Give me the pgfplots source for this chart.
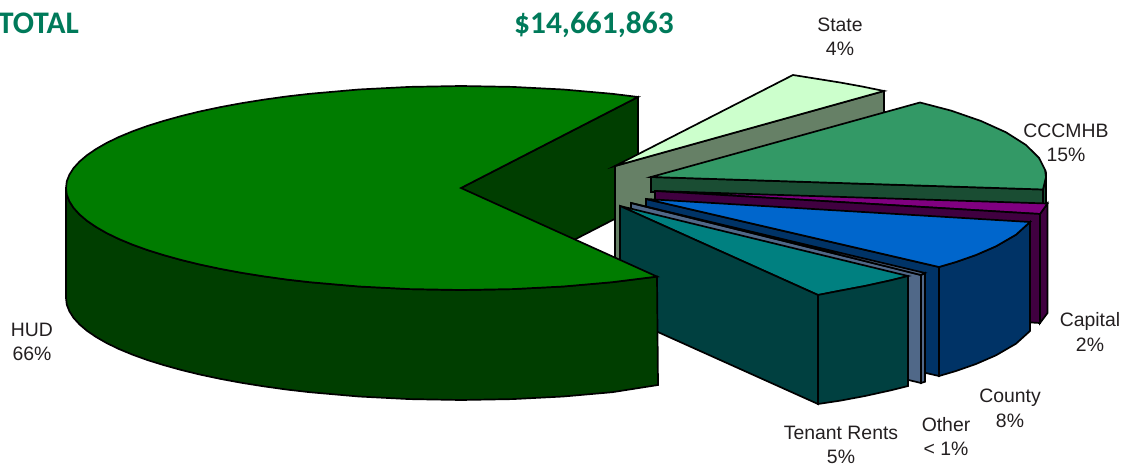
\documentclass[border=0pt]{standalone}
\usepackage{fontspec}
\setmainfont{Liberation Sans}
\newfontfamily\labelfont{Liberation Sans}
\newfontfamily\titlefont{Carlito}
\usepackage{pgfplots}
\pgfplotsset{compat=1.18}
\definecolor{hudtop}{RGB}{0,124,0}
\definecolor{hudwall}{RGB}{0,62,0}
\definecolor{statetop}{RGB}{204,255,204}
\definecolor{statewall}{RGB}{102,128,102}
\definecolor{cccmhbtop}{RGB}{51,153,102}
\definecolor{cccmhbwall}{RGB}{26,77,51}
\definecolor{capitaltop}{RGB}{128,0,128}
\definecolor{capitalwall}{RGB}{64,0,64}
\definecolor{countytop}{RGB}{0,102,204}
\definecolor{countywall}{RGB}{0,51,102}
\definecolor{otherwall}{RGB}{80,104,136}
\definecolor{tenanttop}{RGB}{0,128,128}
\definecolor{tenantwall}{RGB}{0,64,64}
\definecolor{titlegreen}{RGB}{0,122,90}
\definecolor{labeltext}{RGB}{35,31,32}
\begin{document}
\begin{tikzpicture}
\begin{axis}[
    at={(0,0)},
    scale only axis,
    width=1125pt,
    height=465pt,
    xmin=0, xmax=1125,
    ymin=0, ymax=465,
    y dir=reverse,
    axis lines=none,
    clip=false,
    every axis plot/.append style={draw=black, line width=1.7pt, mark=none},
]
% HUD inner wall
\addplot[fill=hudwall] coordinates {(461,188) (638,97) (638,207) (461,298)} --cycle;

% State
\addplot[fill=statewall] coordinates {(615,166) (884,91) (884,201) (615,276)} --cycle;
\addplot[fill=statetop] coordinates {(615,166) (793,75) (815,78.5) (840,82.5) (862,86.5) (884,91)} --cycle;

% CCCMHB
\addplot[fill=cccmhbwall] coordinates {(1046,177) (1046,287) (1043,299) (1043,189.5)} --cycle;
\addplot[fill=cccmhbwall] coordinates {(651,177) (1043,189.5) (1043,240) (655,240) (655,192) (651,192)} --cycle;
\addplot[fill=cccmhbtop] coordinates {(651,177) (920,102.5) (951,110.6) (981,121) (1006,132.3) (1026,145) (1039,157.9) (1045,169.7) (1046,177) (1043,189.5)} --cycle;

% Capital
\addplot[fill=capitalwall] coordinates {(1047.5,203.5) (1047.5,313) (1040,323) (1040,214)} --cycle;
\addplot[fill=capitaltop] coordinates {(655,191) (1047.5,203.5) (1040,214)} --cycle;
\addplot[fill=capitalwall] coordinates {(655,191) (1040,214) (1040,323) (655,301)} --cycle;

% County
\addplot[fill=countywall] coordinates {(646,199) (939,267) (939,376) (646,309)} --cycle;
\addplot[fill=countywall] coordinates {(939,267) (956,262) (976,255) (996,246.3) (1016,234.7) (1030,222) (1030,331) (1016,343.7) (996,355.3) (976,364) (956,371) (939,376)} --cycle;
\addplot[fill=countytop] coordinates {(646,199) (1030,222) (1016,234.7) (996,246.3) (976,255) (956,262) (939,267)} --cycle;

% Other
\addplot[fill=otherwall] coordinates {(631,203) (921,275) (921,383) (631,313)} --cycle;
\addplot[fill=otherwall] coordinates {(921,275) (925,273) (925,381.7) (921,383)} --cycle;
\addplot[fill=otherwall] coordinates {(631,203) (925,273) (921,275)} --cycle;

% Tenant Rents
\addplot[fill=tenanttop] coordinates {(620,206) (908,276) (890,280.5) (865,286) (840,290.7) (818,295)} --cycle;
\addplot[fill=tenantwall] coordinates {(620,206) (818,295) (818,404) (620,315)} --cycle;
\addplot[fill=tenantwall] coordinates {(818,295) (840,290.7) (865,286) (890,280.5) (908,276) (908,386) (890,390.5) (865,396) (840,400.7) (818,404)} --cycle;

% HUD front wall and top
\addplot[fill=hudwall] coordinates {
    (66,188) (66.8,194.7) (69.4,201.3) (73.6,207.9) (79.5,214.4) (87,220.8)
    (96.1,227) (106.7,233.1) (118.9,239) (132.6,244.7) (147.6,250.1) (164,255.2)
    (181.7,260.1) (200.6,264.7) (220.5,268.9) (241.5,272.8) (263.5,276.3)
    (286.3,279.5) (309.8,282.2) (358.8,286.5)
    (409.5,289.1) (461,290) (512.5,289.1) (563.2,286.5) (612.2,282.2) (657,276.6)
    (658,385) (612.2,392.2) (563.2,396.5) (512.5,399.1) (461,400) (409.5,399.1)
    (358.8,396.5) (309.8,392.2) (286.3,389.5) (263.5,386.3) (241.5,382.8)
    (220.5,378.9) (200.6,374.7) (181.7,370.1) (164,365.2)
    (147.6,360.1) (132.6,354.7) (118.9,349) (106.7,343.1) (96.1,337) (87,330.8)
    (79.5,324.4) (73.6,317.9) (69.4,311.3) (66.8,304.7) (66,298)
} --cycle;
\addplot[fill=hudtop] coordinates {
    (461,188) (638,97) (612.2,93.8) (563.2,89.5) (512.5,86.9) (461,86)
    (409.5,86.9) (358.8,89.5) (309.8,93.8) (286.3,96.5) (263.5,99.7) (241.5,103.2)
    (220.5,107.1) (200.6,111.3) (181.7,115.9) (164,120.8) (147.6,125.9) (132.6,131.3)
    (118.9,137) (106.7,142.9) (96.1,149) (87,155.2) (79.5,161.6) (73.6,168.1)
    (69.4,174.7) (66.8,181.3) (66,188) (66.8,194.7) (69.4,201.3) (73.6,207.9)
    (79.5,214.4) (87,220.8) (96.1,227) (106.7,233.1) (118.9,239) (132.6,244.7)
    (147.6,250.1) (164,255.2) (181.7,260.1) (200.6,264.7) (220.5,268.9) (241.5,272.8)
    (263.5,276.3) (286.3,279.5) (309.8,282.2)
    (358.8,286.5) (409.5,289.1) (461,290) (512.5,289.1) (563.2,286.5)
    (612.2,282.2) (657,276.6)
} --cycle;

% labels
\begin{scope}[every node/.style={align=center, inner sep=0pt, text=labeltext, font=\labelfont\fontsize{19.4}{24.5}\selectfont}]
\node at (axis cs:840,37) {State\\4\%};
\node at (axis cs:1066,143) {CCCMHB\\15\%};
\node at (axis cs:1090,332) {Capital\\2\%};
\node at (axis cs:1010,408.5) {County\\8\%};
\node at (axis cs:946,436.5) {Other\\< 1\%};
\node at (axis cs:841,445) {Tenant Rents\\5\%};
\node at (axis cs:32,342) {HUD\\66\%};
\end{scope}
\node[anchor=base west, inner sep=0pt, text=titlegreen, font=\titlefont\bfseries\fontsize{31.4}{34}\selectfont] at (axis cs:-2,33.5) {TOTAL};
\node[anchor=base west, inner sep=0pt, text=titlegreen, font=\titlefont\bfseries\fontsize{31.4}{34}\selectfont] at (axis cs:514,33.5) {\$14,661,863};
\end{axis}
\pgfresetboundingbox
\path[use as bounding box] (0,0) rectangle (1125pt,465pt);
\end{tikzpicture}
\end{document}
